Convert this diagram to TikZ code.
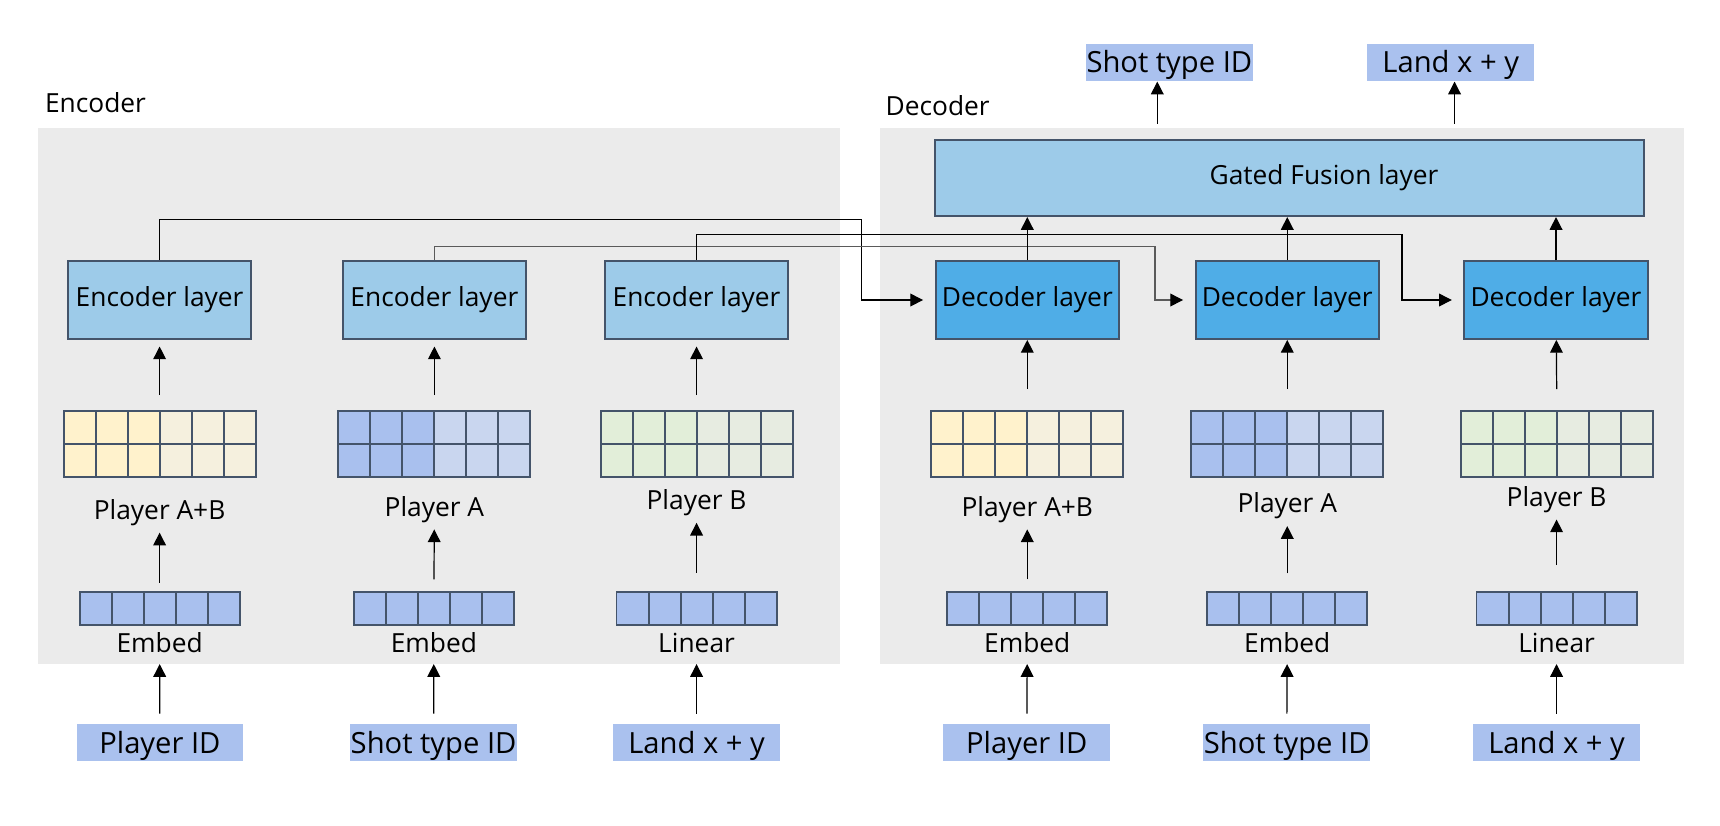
\documentclass[tikz,border=0pt]{standalone}
\usepackage{fontspec}
\setmainfont{Open Sans}
\usetikzlibrary{arrows.meta,calc}
\definecolor{bgray}{HTML}{EBEBEB}
\definecolor{encc}{HTML}{9DCBE9}
\definecolor{decc}{HTML}{4FADE7}
\definecolor{bord}{HTML}{44546A}
\definecolor{lblc}{HTML}{AAC1EE}
\definecolor{yelA}{HTML}{FFF2CC}
\definecolor{yelB}{HTML}{F5F0DE}
\definecolor{bluA}{HTML}{A9C0EE}
\definecolor{bluB}{HTML}{C9D6EF}
\definecolor{grnA}{HTML}{E2EED9}
\definecolor{grnB}{HTML}{E7ECE1}
\definecolor{connB}{HTML}{5A5A5A}
\newcommand\tokgrid[4]{%
  \foreach \i in {0,1,2}{\fill[#3] (#2-87.5+\i*29.1667,375) rectangle ++(29.1667,60);}
  \foreach \i in {3,4,5}{\fill[#4] (#2-87.5+\i*29.1667,375) rectangle ++(29.1667,60);}
  \foreach \i in {1,...,5}{\draw[gridln] (#2-87.5+\i*29.1667,375) -- ++(0,60);}
  \draw[gridln] (#2-87.5,405) -- ++(175,0);
  \node[draw=bord, line width=0.9pt, minimum width=87.5pt, minimum height=30pt, inner sep=0pt] (#1) at (#2,405) {};
}
\newcommand\embrow[2]{%
  \node[draw=bord, fill=bluA, line width=0.9pt, minimum width=73pt, minimum height=15pt, inner sep=0pt] (#1) at (#2,555) {};
  \foreach \i in {1,...,4}{\draw[gridln] (#2-73+\i*29.2,540) -- ++(0,30);}
}
\begin{document}
\begin{tikzpicture}[x=0.5pt,y=-0.5pt,
  font=\fontsize{12}{14.4}\selectfont,
  txt/.style={inner xsep=0pt, inner ysep=0pt, text height=8.6pt, text depth=0pt},
  plbl/.style={txt, inner ysep=5.8pt},
  embl/.style={txt, inner ysep=5.2pt},
  layerbox/.style={draw=bord, line width=0.9pt, minimum width=83.5pt, minimum height=35.5pt, inner sep=0pt},
  enclayer/.style={layerbox, fill=encc},
  declayer/.style={layerbox, fill=decc},
  iolbl/.style={fill=lblc, minimum width=76pt, minimum height=17pt, inner sep=0pt, font=\fontsize{13.3}{15}\selectfont, text height=9.5pt, text depth=0pt},
  gridln/.style={draw=bord, line width=0.9pt},
  arr/.style={line width=0.55pt, -{Triangle[length=5.8pt,width=5.8pt,color=black]}},
  bgbox/.style={fill=bgray, inner sep=0pt, minimum height=244pt},
]
\fill[white] (0,0) rectangle (1568,753);
\useasboundingbox (0,0) rectangle (1568,753);

% backgrounds
\node[bgbox, minimum width=365.5pt] (encbg) at (400.5,361) {};
\node[bgbox, minimum width=366.5pt] (decbg) at (1168.5,361) {};
\node[txt, anchor=west] (enct) at (40.7,94) {Encoder};
\node[txt, anchor=west] (dect) at (807,96.5) {Decoder};

% layers
\node[enclayer] (e1) at (145.5,273.5) {Encoder layer};
\node[enclayer] (e2) at (396,273.5) {Encoder layer};
\node[enclayer] (e3) at (635,273.5) {Encoder layer};
\node[declayer] (d1) at (936.5,273.5) {Decoder layer};
\node[declayer] (d2) at (1173.5,273.5) {Decoder layer};
\node[declayer] (d3) at (1418.5,273.5) {Decoder layer};
\node[draw=bord, fill=encc, line width=0.9pt, minimum width=323.5pt, minimum height=34.5pt, inner sep=0pt] (fusion) at (1175.5,162.5) {};
\node[txt] (fust) at (1207,160) {Gated Fusion layer};

% token grids
\tokgrid{m1}{145.5}{yelA}{yelB}
\tokgrid{m2}{396}{bluA}{bluB}
\tokgrid{m3}{635}{grnA}{grnB}
\tokgrid{m4}{936.5}{yelA}{yelB}
\tokgrid{m5}{1173.5}{bluA}{bluB}
\tokgrid{m6}{1419.5}{grnA}{grnB}

% embed rows
\embrow{em1}{145.5}
\embrow{em2}{395.5}
\embrow{em3}{635}
\embrow{em4}{936.5}
\embrow{em5}{1173.5}
\embrow{em6}{1419}

% labels
\node[plbl] (pl1) at (145.5,465) {Player A+B};
\node[plbl] (pl2) at (396,462) {Player A};
\node[plbl] (pl3) at (635,456) {Player B};
\node[plbl] (pl4) at (936.5,462) {Player A+B};
\node[plbl] (pl5) at (1173.5,459) {Player A};
\node[plbl] (pl6) at (1419,453) {Player B};

\node[embl] (et1) at (145.5,586) {Embed};
\node[embl] (et2) at (395.5,586) {Embed};
\node[embl] (et3) at (635,586) {Linear};
\node[embl] (et4) at (936.5,586) {Embed};
\node[embl] (et5) at (1173.5,586) {Embed};
\node[embl] (et6) at (1419,586) {Linear};

% inputs
\node[iolbl] (in1) at (145.75,677) {Player ID};
\node[iolbl] (in2) at (395.25,677) {Shot type ID};
\node[iolbl] (in3) at (635,677) {Land x + y};
\node[iolbl] (in4) at (936,677) {Player ID};
\node[iolbl] (in5) at (1173,677) {Shot type ID};
\node[iolbl] (in6) at (1419,677) {Land x + y};

% outputs
\node[iolbl] (out1) at (1066,57) {Shot type ID};
\node[iolbl] (out2) at (1322.5,57) {Land x + y};

% input -> embed label
\foreach \k in {1,...,6}{\draw[arr, shorten <=4.5pt] (in\k) -- (et\k);}

% embed -> player label
\draw[arr, shorten <=4pt] (em1) -- (pl1);
\draw[arr, shorten <=5.5pt] (em2) -- (pl2);
\draw[arr, shorten <=8.5pt] (em3) -- (pl3);
\draw[arr, shorten <=5.5pt] (em4) -- (pl4);
\draw[arr, shorten <=8.2pt] (em5) -- (pl5);
\draw[arr, shorten <=12pt] (em6) -- (pl6);

% grids -> layers
\draw[arr, shorten <=7pt, shorten >=3pt] (m1) -- (e1);
\draw[arr, shorten <=7pt, shorten >=3pt] (m2) -- (e2);
\draw[arr, shorten <=7pt, shorten >=3pt] (m3) -- (e3);
\draw[arr, shorten <=9.7pt] (m4) -- (d1);
\draw[arr, shorten <=9.7pt] (m5) -- (d2);
\draw[arr, shorten <=9.7pt] (m6) -- (d3);

% encoder -> decoder cross connections
\draw[arr, shorten >=5.3pt] (e1.north) |- (785,200) |- (d1.west);
\draw[arr, draw=connB, shorten >=5.3pt] (e2.north) |- (1053,225) |- (d2.west);
\draw[arr, shorten >=5.3pt] (e3.north) |- (1278,214) |- (d3.west);

% decoder -> fusion
\draw[arr] (d1.north) -- (d1.north |- fusion.south);
\draw[arr] (d2.north) -- (d2.north |- fusion.south);
\draw[arr] (d3.north) -- (d3.north |- fusion.south);

% fusion -> outputs
\coordinate (f1) at (1055,113);
\coordinate (f2) at (1326,113);
\draw[arr] (f1) -- (f1 |- out1.south);
\draw[arr] (f2) -- (f2 |- out2.south);
\end{tikzpicture}
\end{document}
